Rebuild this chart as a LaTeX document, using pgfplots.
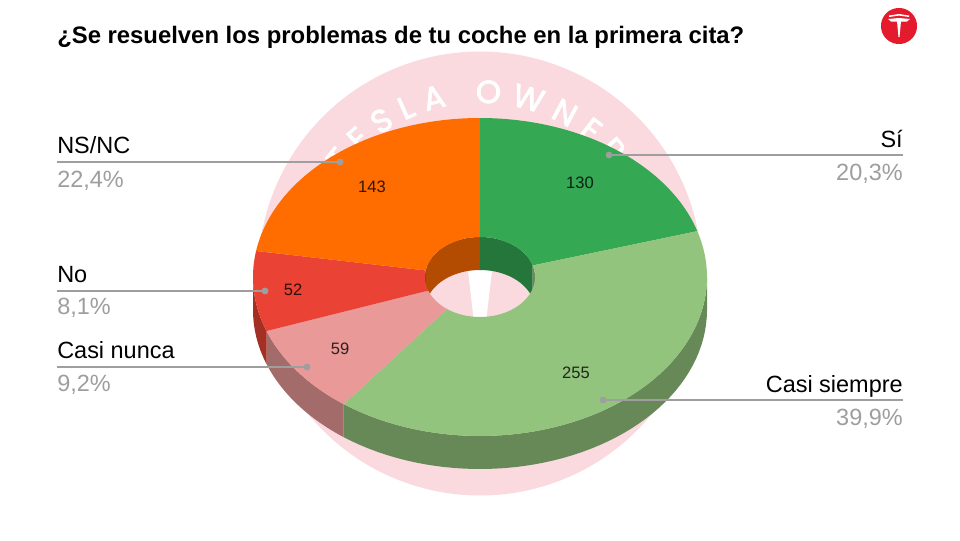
\documentclass[border=0pt]{standalone}
\usepackage{pgfplots}
\pgfplotsset{compat=1.18}
\usepackage{fontspec}
\setmainfont{Liberation Sans}
\newfontfamily\wmfont{Poppins}[AutoFakeBold=2.5]
\usetikzlibrary{decorations.text}

\definecolor{cSi}{HTML}{34A853}
\definecolor{cCS}{HTML}{93C47D}
\definecolor{cCN}{HTML}{EA9999}
\definecolor{cNo}{HTML}{EA4335}
\definecolor{cNS}{HTML}{FF6D01}
\definecolor{dSi}{HTML}{24763A}
\definecolor{dCS}{HTML}{678958}
\definecolor{dCN}{HTML}{A46B6B}
\definecolor{dNo}{HTML}{A42F25}
\definecolor{dNS}{HTML}{B34C01}
\definecolor{wmpink}{HTML}{FADADF}
\definecolor{lead}{HTML}{9E9E9E}
\definecolor{pct}{HTML}{9E9E9E}
\definecolor{teslared}{HTML}{E31B2D}

% data (counts)
\def\vSi{130}\def\vCS{255}\def\vCN{59}\def\vNo{52}\def\vNS{143}
\pgfmathsetmacro\tot{\vSi+\vCS+\vCN+\vNo+\vNS}
\pgfmathsetmacro\aA{90}
\pgfmathsetmacro\aB{\aA-360*(\vSi/\tot)}
\pgfmathsetmacro\aC{\aB-360*(\vCS/\tot)}
\pgfmathsetmacro\aD{\aC-360*(\vCN/\tot)}
\pgfmathsetmacro\aE{\aD-360*(\vNo/\tot)}
\pgfmathsetmacro\aF{\aE-360*(\vNS/\tot)}
\pgfmathsetmacro\aEb{\aE+360}
\pgfmathsetmacro\aFb{\aF+360}

% geometry (pixels)
\def\cx{480}\def\cy{277}\def\rx{227}\def\ry{159}\def\hx{55}\def\hy{40}\def\dep{33}

% top face of a donut slice: colour, start angle, end angle
\newcommand\topface[3]{\addplot[fill=#1,draw=none,domain=0:2.2,samples=111,variable=\t]
 ({\cx+(\rx-(\rx-\hx)*min(1,max(0,(\t-1)*5)))*cos((#2)+((#3)-(#2))*min(1,min(2.2-\t,\t)))},
  {\cy-(\ry-(\ry-\hy)*min(1,max(0,(\t-1)*5)))*sin((#2)+((#3)-(#2))*min(1,min(2.2-\t,\t)))});}
% wall: colour, start angle, end angle, x radius, y radius
\newcommand\wall[5]{\addplot[fill=#1,draw=none,domain=0:2.2,samples=111,variable=\t]
 ({\cx+(#4)*cos((#2)+((#3)-(#2))*min(1,min(2.2-\t,\t)))},
  {\cy-(#5)*sin((#2)+((#3)-(#2))*min(1,min(2.2-\t,\t)))+\dep*min(1,max(0,(\t-1)*5))});}

\newcommand\lab{\fontsize{17.6}{20}\selectfont}
\newcommand\val{\fontsize{12.4}{14}\selectfont}
\newcommand\wmstyle{\color{white}\wmfont\bfseries\fontsize{24}{24}\selectfont}

\begin{document}
\begin{tikzpicture}
\begin{axis}[scale only axis, width=720pt, height=405pt,
  xmin=0, xmax=960, ymin=0, ymax=540, y dir=reverse,
  hide axis, clip=false]
% background box
\addplot[fill=white,draw=none] coordinates {(0,0) (960,0) (960,540) (0,540)};
% watermark
\addplot[fill=wmpink,draw=none,domain=0:360,samples=181,variable=\t]
  ({480+222*cos(\t)},{273.5-222*sin(\t)});
\addplot[fill=white,draw=none] coordinates {(467,262) (493,262) (486,322) (474,322)};
\coordinate (WC) at (axis cs:480,273.5);
\path[decorate,decoration={text along path,
   text={|\wmstyle|TESLA OWNERS},
   text align=fit to path}]
   ([shift={(144:128pt)}]WC) arc[start angle=144,end angle=30,radius=128pt];
% outer front walls
\wall{dCS}{0}{\aC}{\rx}{\ry}
\wall{dCN}{\aC}{\aD}{\rx}{\ry}
\wall{dNo}{\aD}{-180}{\rx}{\ry}
% inner back walls
\wall{dSi}{\aA}{\aB}{\hx}{\hy}
\wall{dCS}{\aB}{0}{\hx}{\hy}
\wall{dNS}{\aEb}{\aFb}{\hx}{\hy}
\wall{dNo}{180}{\aEb}{\hx}{\hy}
% top faces
\topface{cSi}{\aA}{\aB}
\topface{cCS}{\aB}{\aC}
\topface{cCN}{\aC}{\aD}
\topface{cNo}{\aD}{\aE}
\topface{cNS}{\aE}{\aF}
% value labels
\node[font=\val,text opacity=0.8] at (axis cs:580,183) {\vSi};
\node[font=\val,text opacity=0.8] at (axis cs:576,373) {\vCS};
\node[font=\val,text opacity=0.8] at (axis cs:340,349) {\vCN};
\node[font=\val,text opacity=0.8] at (axis cs:293,290) {\vNo};
\node[font=\val,text opacity=0.8] at (axis cs:372,187) {\vNS};
% leader lines
\addplot[lead,line width=1.1pt,mark=*,mark size=2pt,mark indices={2},mark options={fill=lead,draw=none}]
  coordinates {(57,162) (340,162)};
\addplot[lead,line width=1.1pt,mark=*,mark size=2pt,mark indices={2},mark options={fill=lead,draw=none}]
  coordinates {(57,291) (265,291)};
\addplot[lead,line width=1.1pt,mark=*,mark size=2pt,mark indices={2},mark options={fill=lead,draw=none}]
  coordinates {(57,367) (307,367)};
\addplot[lead,line width=1.1pt,mark=*,mark size=2pt,mark indices={1},mark options={fill=lead,draw=none}]
  coordinates {(609,155) (903,155)};
\addplot[lead,line width=1.1pt,mark=*,mark size=2pt,mark indices={1},mark options={fill=lead,draw=none}]
  coordinates {(603,400) (903,400)};
% category labels
\node[anchor=base west,inner sep=0pt,font=\lab] at (axis cs:57,153) {NS/NC};
\node[anchor=base west,inner sep=0pt,font=\lab,text=pct] at (axis cs:57,187) {22,4\%};
\node[anchor=base west,inner sep=0pt,font=\lab] at (axis cs:57,282) {No};
\node[anchor=base west,inner sep=0pt,font=\lab,text=pct] at (axis cs:57,314) {8,1\%};
\node[anchor=base west,inner sep=0pt,font=\lab] at (axis cs:57,358) {Casi nunca};
\node[anchor=base west,inner sep=0pt,font=\lab,text=pct] at (axis cs:57,391) {9,2\%};
\node[anchor=base east,inner sep=0pt,font=\lab] at (axis cs:903,147) {Sí};
\node[anchor=base east,inner sep=0pt,font=\lab,text=pct] at (axis cs:903,180) {20,3\%};
\node[anchor=base east,inner sep=0pt,font=\lab] at (axis cs:903,392) {Casi siempre};
\node[anchor=base east,inner sep=0pt,font=\lab,text=pct] at (axis cs:903,425) {39,9\%};
% title
\node[anchor=base west,inner sep=0pt,font=\bfseries\fontsize{17.9}{21}\selectfont] at (axis cs:57,43)
  {¿Se resuelven los problemas de tu coche en la primera cita?};
% logo
\addplot[fill=teslared,draw=none,domain=0:360,samples=73,variable=\t]
  ({899+18*cos(\t)},{26-18*sin(\t)});
\addplot[fill=white,draw=none] coordinates {(889,15.5) (899,14) (909,15.5) (909,17) (899,15.6) (889,17)};
\addplot[fill=white,draw=none] coordinates {(888,19) (899,18) (910,19) (907,21.5) (901,21.5) (899.5,37) (898.5,37) (897,21.5) (891,21.5)};
\coordinate (SW) at (axis cs:0,540);
\coordinate (NE) at (axis cs:960,0);
\end{axis}
\pgfresetboundingbox
\path[use as bounding box] (SW) rectangle (NE);
\end{tikzpicture}
\end{document}
